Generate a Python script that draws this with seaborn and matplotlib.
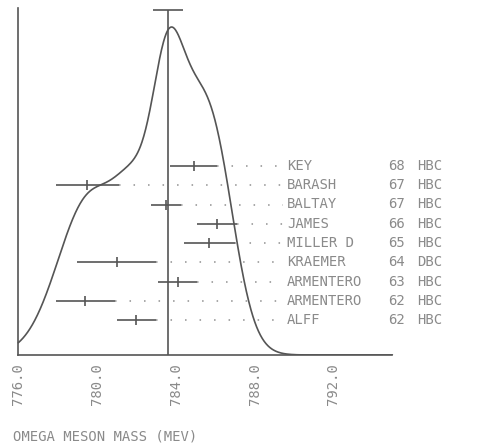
import numpy as np
import pandas as pd
import matplotlib
matplotlib.use("Agg")
import matplotlib.pyplot as plt
import matplotlib.transforms as mtransforms
import seaborn as sns

# ---- data ----
names = ['KEY', 'BARASH', 'BALTAY', 'JAMES', 'MILLER D', 'KRAEMER',
         'ARMENTERO', 'ARMENTERO', 'ALFF']
years = ['68', '67', '67', '66', '65', '64', '63', '62', '62']
techs = ['HBC', 'HBC', 'HBC', 'HBC', 'HBC', 'DBC', 'HBC', 'HBC', 'HBC']
masses = [784.9, 779.5, 783.5, 786.1, 785.7, 781.0, 784.1, 779.4, 782.0]
errors = [1.2, 1.6, 0.75, 1.0, 1.3, 2.0, 1.0, 1.5, 1.0]
mean_mass = 783.6
mean_err = 0.75
tick_values = [776.0, 780.0, 784.0, 788.0, 792.0]
xlabel = 'OMEGA MESON MASS (MEV)'

# ---- style ----
sns.set_theme(style="white")
plt.rcParams['font.family'] = ['DejaVu Sans Mono', 'DejaVu Sans']
LINE = '#555555'
TXT = '#8a8a8a'
FS = 10

W, H = 480, 446
fig = plt.figure(figsize=(W / 100, H / 100), dpi=100)
base_px = 355
ax = fig.add_axes([0, (H - base_px) / H, 1, base_px / H])

px_per_mev = 19.69
x0 = 776.0 - 18.3 / px_per_mev
ax.set_xlim(x0, x0 + W / px_per_mev)

# rows: row r at pixel 166 + 19.25 r
row0_px, row_step = 166.0, 19.25
def prow(px):
    return (px - row0_px) / row_step
baseline = prow(base_px)
ax.set_ylim(baseline, prow(0))

df = pd.DataFrame({'name': names, 'year': years, 'tech': techs,
                   'mass': masses, 'err': errors})
df['row'] = np.arange(len(df))

# ---- ideogram (sum of gaussians from the measurements) ----
grid = np.linspace(776.0, 795.0, 800)
ideo = np.zeros_like(grid)
for m, e in zip(masses, errors):
    ideo += (1.0 / e) * np.exp(-0.5 * ((grid - m) / e) ** 2)
peak_row = prow(27)
curve = pd.DataFrame({'m': grid,
                      'y': baseline - (baseline - peak_row) * ideo / ideo.max()})
sns.lineplot(data=curve, x='m', y='y', ax=ax, color=LINE, lw=1.2,
             sort=False, estimator=None)

# ---- mean line with its error ----
top_row = prow(10)
ax.vlines(mean_mass, baseline, top_row, color=LINE, lw=1.2)
ax.hlines(top_row, mean_mass - mean_err, mean_mass + mean_err, color=LINE, lw=1.2)

# ---- measurements ----
lead_end = x0 + 283 / px_per_mev
ax.hlines(df['row'], df['mass'] - df['err'], df['mass'] + df['err'],
          color=LINE, lw=1.2)
sns.scatterplot(data=df, x='mass', y='row', ax=ax, marker='|', s=60,
                color=LINE, linewidth=1.2, legend=False, zorder=3)
for _, r in df.iterrows():
    ax.plot([r['mass'] + r['err'], lead_end], [r['row'], r['row']],
            color='#8f8f8f', lw=1.1, linestyle=(0, (1, 8.5)))

tr = mtransforms.blended_transform_factory(fig.transFigure, ax.transData)
for _, r in df.iterrows():
    ax.text(287 / W, r['row'], r['name'], transform=tr, ha='left',
            va='center', fontsize=FS, color=TXT)
    ax.text(388 / W, r['row'], r['year'], transform=tr, ha='left',
            va='center', fontsize=FS, color=TXT)
    ax.text(417 / W, r['row'], r['tech'], transform=tr, ha='left',
            va='center', fontsize=FS, color=TXT)

# ---- axes ----
for s in ['top', 'right']:
    ax.spines[s].set_visible(False)
ax.spines['left'].set_position(('data', 776.0))
ax.spines['left'].set_bounds(baseline, prow(8))
ax.spines['bottom'].set_bounds(776.0, 795.0)
for s in ['left', 'bottom']:
    ax.spines[s].set_color(LINE)
    ax.spines[s].set_linewidth(1.2)
ax.set_yticks([])
ax.set_xticks(tick_values)
ax.set_xticklabels([f'{v:.1f}' for v in tick_values], rotation=90,
                   fontsize=FS, color=TXT)
ax.tick_params(axis='x', direction='inout', length=4, width=1, color=LINE, pad=4)
ax.set_xlabel('')
ax.set_ylabel('')

fig.text(13 / W, 1 - 437 / H, xlabel, ha='left', va='center',
         fontsize=FS, color=TXT)

fig.savefig('out.png', dpi=100, facecolor='white')
